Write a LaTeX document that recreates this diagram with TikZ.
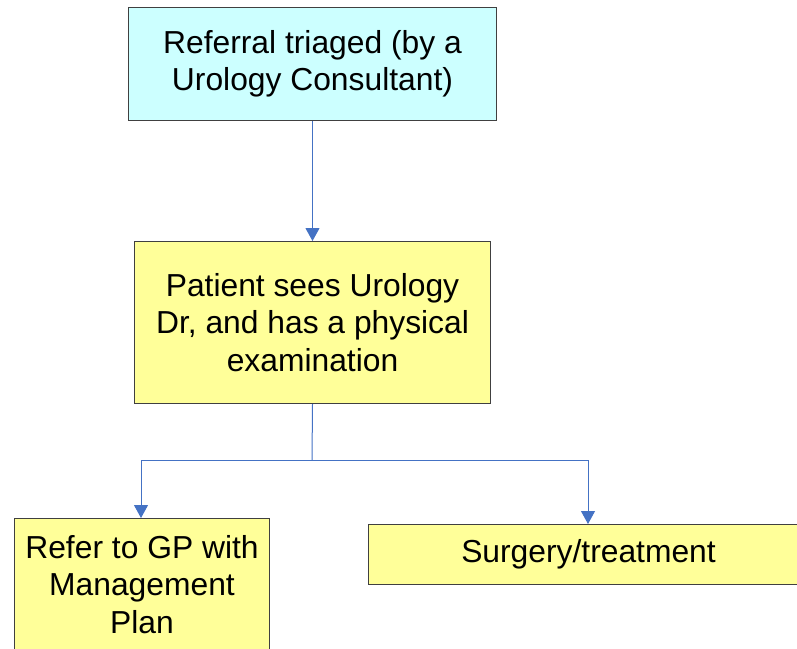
\documentclass[tikz,border=0pt]{standalone}
\usepackage{fontspec}
\setmainfont{Liberation Sans}
\usetikzlibrary{arrows.meta}
\definecolor{cyanfill}{HTML}{CCFFFF}
\definecolor{yelfill}{HTML}{FFFF99}
\definecolor{boxline}{HTML}{404040}
\definecolor{conn}{HTML}{4472C4}
\tikzset{
  box/.style={draw=boxline, line width=1pt, inner sep=0pt, align=center,
    font=\fontsize{31.8}{37.5}\selectfont, anchor=north west},
  link/.style={draw=conn, line width=1pt, -{Triangle[width=14pt,length=13pt]}},
  plain/.style={draw=conn, line width=1pt}
}
\begin{document}
\begin{tikzpicture}[x=1pt,y=-1pt]
\useasboundingbox (0,0) rectangle (797,648);
\clip (0,0) rectangle (797,648);
\node[box, fill=cyanfill, minimum width=368pt, minimum height=113pt] (ref) at (128,7)
  {Referral triaged (by a\\Urology Consultant)};
\node[box, fill=yelfill, minimum width=356pt, minimum height=162pt] (pat) at (134,241)
  {Patient sees Urology\\Dr, and has a physical\\examination};
\node[box, fill=yelfill, minimum width=255pt, minimum height=132pt] (gp) at (14,518)
  {Refer to GP with\\Management\\Plan};
\node[box, fill=yelfill, minimum width=440pt, minimum height=60pt] (sur) at (368,524)
  {Surgery/treatment};
\draw[link] (ref.south -| pat.north) -- (pat.north);
\coordinate (split) at (312,460);
\draw[plain] (pat.south) -- (split);
\draw[link] (split) -| (141,518);
\draw[link] (split) -| (588,524);
\end{tikzpicture}
\end{document}
